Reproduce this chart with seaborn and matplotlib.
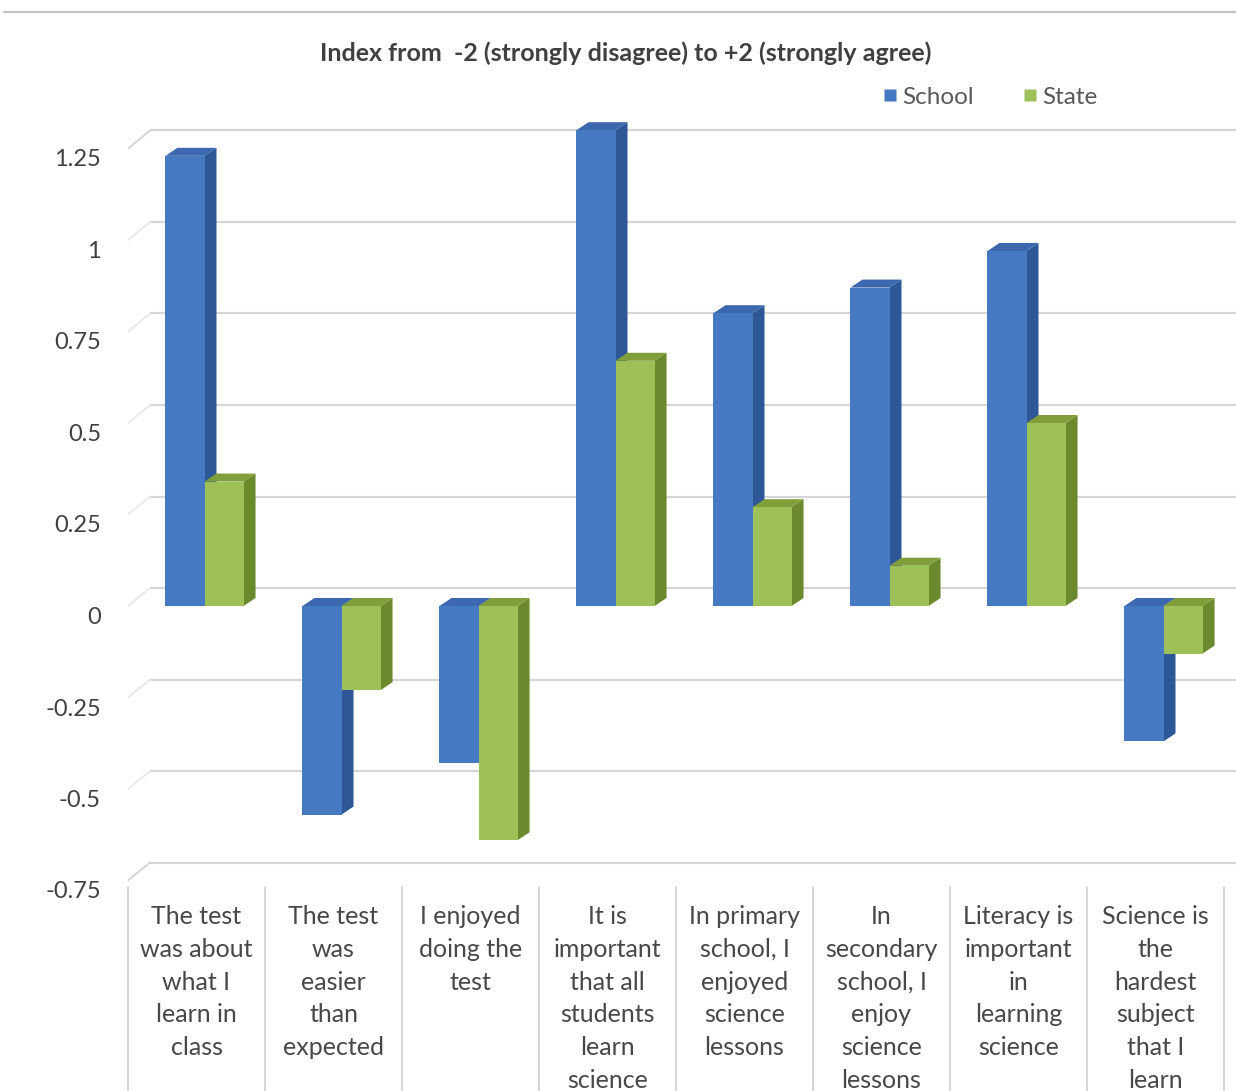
import numpy as np
import pandas as pd
import matplotlib
matplotlib.use("Agg")
import matplotlib.pyplot as plt
from matplotlib.patches import Polygon
from matplotlib.lines import Line2D
from matplotlib.transforms import ScaledTranslation, blended_transform_factory
import seaborn as sns

# ---- data -------------------------------------------------------------
categories = [
    "The test\nwas about\nwhat I\nlearn in\nclass",
    "The test\nwas\neasier\nthan\nexpected",
    "I enjoyed\ndoing the\ntest",
    "It is\nimportant\nthat all\nstudents\nlearn\nscience",
    "In primary\nschool, I\nenjoyed\nscience\nlessons",
    "In\nsecondary\nschool, I\nenjoy\nscience\nlessons",
    "Literacy is\nimportant\nin\nlearning\nscience",
    "Science is\nthe\nhardest\nsubject\nthat I\nlearn",
]
school = [1.23, -0.57, -0.43, 1.30, 0.80, 0.87, 0.97, -0.37]
state = [0.34, -0.23, -0.64, 0.67, 0.27, 0.11, 0.50, -0.13]
series_names = ["School", "State"]
y_ticks = [-0.75, -0.5, -0.25, 0, 0.25, 0.5, 0.75, 1, 1.25]
y_tick_labels = ["-0.75", "-0.5", "-0.25", "0", "0.25", "0.5", "0.75", "1", "1.25"]
title = "Index from  -2 (strongly disagree) to +2 (strongly agree)"

# ---- style ------------------------------------------------------------
sns.set_theme(style="white")
plt.rcParams["font.family"] = ["Lato", "DejaVu Sans"]

front_colors = ["#4579C2", "#9DC158"]
side_colors = ["#2D5797", "#6B8A2D"]
top_colors = ["#3B68AE", "#809F3B"]
text_color = "#404040"
grid_color = "#D6D6D6"

W, H, DPI = 1236, 1091, 100
fig = plt.figure(figsize=(W / DPI, H / DPI), dpi=DPI)

# plot area geometry (pixels)
ax_left_px, ax_right_px = 128, 1236
ax_top_px, ax_bottom_px = 120, 885
slot_px = 137.0          # width of one category slot
unit_px = 366.0          # pixels per index unit
zero_px = 606.0          # vertical pixel of value 0 on the bar fronts

ax = fig.add_axes([ax_left_px / W, 1 - ax_bottom_px / H,
                   (ax_right_px - ax_left_px) / W, (ax_bottom_px - ax_top_px) / H])
ylim = ((zero_px - ax_bottom_px) / unit_px, (zero_px - ax_top_px) / unit_px)
xlim = (-0.5, -0.5 + (ax_right_px - ax_left_px) / slot_px)

# ---- bars ---------------------------------------------------------------
n = len(categories)
pair_shift = 8 / slot_px
df = pd.DataFrame({
    "pos": np.tile(np.arange(n) + pair_shift, 2),
    "value": school + state,
    "series": np.repeat(series_names, n),
})
sns.barplot(data=df, x="pos", y="value", hue="series", native_scale=True,
            width=0.57, palette=front_colors, saturation=1, errorbar=None,
            legend=False, linewidth=0, edgecolor="none", ax=ax)

# depth of the 3-D extrusion in data units
dx = 12 / slot_px
dy = 8 / unit_px
for k, container in enumerate(ax.containers):
    for rect in container.patches:
        x, w = rect.get_x(), rect.get_width()
        y0, h = rect.get_y(), rect.get_height()
        lo, hi = min(y0, y0 + h), max(y0, y0 + h)
        rect.set_zorder(3 + 2 * k)
        side = Polygon([(x + w, lo), (x + w, hi), (x + w + dx, hi + dy), (x + w + dx, lo + dy)],
                       closed=True, facecolor=side_colors[k], edgecolor="none",
                       zorder=2 + 2 * k)
        top = Polygon([(x, hi), (x + dx, hi + dy), (x + w + dx, hi + dy), (x + w, hi)],
                      closed=True, facecolor=top_colors[k], edgecolor="none",
                      zorder=2 + 2 * k)
        ax.add_patch(side)
        ax.add_patch(top)

# ---- back wall gridlines and side-wall edges -----------------------------
back = 18 / unit_px
wall_dx = 22 / slot_px
wall_drop = 18 / unit_px
for t in y_ticks:
    yb = t + back
    edge = t in (y_ticks[0], y_ticks[-1])
    ax.plot([xlim[0] + wall_dx, xlim[1]], [yb, yb], color=grid_color, lw=1.6,
            zorder=1, solid_capstyle="butt")
    ax.plot([xlim[0], xlim[0] + wall_dx], [yb - wall_drop, yb],
            color=grid_color if edge else "#EAEAEA", lw=1.4, zorder=1)

# category separators below the floor
sep_tr = blended_transform_factory(ax.transData, fig.transFigure)
for i in range(n + 1):
    ax.plot([i - 0.5, i - 0.5], [0, 1 - (ax_bottom_px + 2) / H], color=grid_color,
            lw=1.4, transform=sep_tr, clip_on=False, zorder=1)

# ---- axes ----------------------------------------------------------------
ax.set_xlim(*xlim)
ax.set_ylim(*ylim)
ax.set_yticks(y_ticks)
ax.set_yticklabels(y_tick_labels)
ax.set_xticks(range(n))
ax.set_xticklabels(categories)
ax.set_xlabel("")
ax.set_ylabel("")
ax.tick_params(axis="y", length=0, pad=19.5, labelsize=17, labelcolor=text_color)
ax.tick_params(axis="x", length=0, pad=14.5, labelsize=18, labelcolor="#484848")
for lab in ax.get_yticklabels():
    lab.set_transform(lab.get_transform() + ScaledTranslation(0, -9.5 / DPI, fig.dpi_scale_trans))
for lab in ax.get_xticklabels():
    lab.set_verticalalignment("top")
    lab.set_linespacing(1.51)
ax.grid(False)
for s in ax.spines.values():
    s.set_visible(False)
ax.set_facecolor("none")

# ---- title, legend, frame line --------------------------------------------
fig.text(626 / W, 1 - 53 / H, title, ha="center", va="center", fontsize=18,
         fontweight="bold", color=text_color)
handles = [Line2D([], [], marker="s", linestyle="none", markersize=9,
                  markerfacecolor=c, markeredgecolor="none") for c in front_colors]
fig.legend(handles, series_names, loc="center", bbox_to_anchor=(989 / W, 1 - 97 / H),
           ncol=2, frameon=False, fontsize=17.5, handletextpad=0.1, columnspacing=1.9,
           handlelength=0.8, labelcolor="#595959")
fig.add_artist(Line2D([4 / W, 1], [1 - 12 / H, 1 - 12 / H], transform=fig.transFigure,
                      color="#C4C4C4", lw=1.6))

fig.savefig("out.png", dpi=DPI, facecolor="white")
